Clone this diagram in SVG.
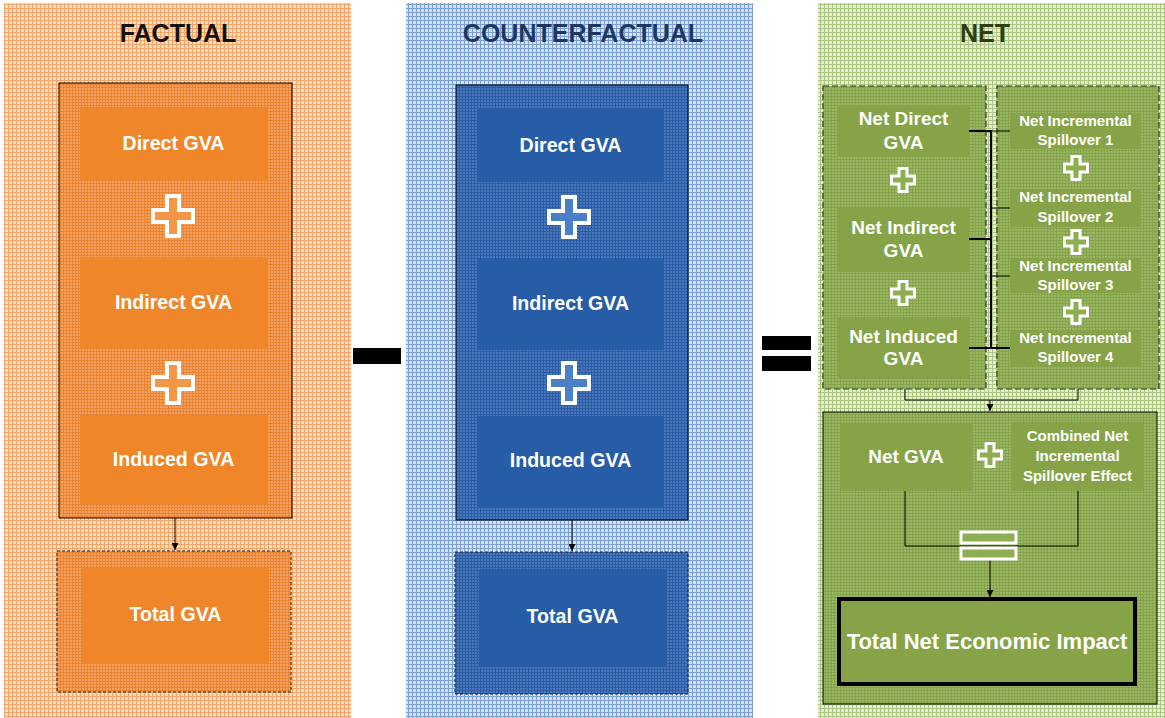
<svg xmlns="http://www.w3.org/2000/svg" width="1165" height="718" viewBox="0 0 1165 718">
  <defs>
    <!-- woven grid fills for the three columns -->
    <pattern id="gridOrangeLight" width="4" height="4" patternUnits="userSpaceOnUse">
      <rect width="4" height="4" fill="#fcdcc2"/>
      <rect width="1" height="4" fill="#f3a468"/>
      <rect width="4" height="1" fill="#f3a468"/>
    </pattern>
    <pattern id="gridOrangeDark" width="3" height="3" patternUnits="userSpaceOnUse">
      <rect width="3" height="3" fill="#f4a060"/>
      <rect width="1" height="3" fill="#ea8430"/>
      <rect width="3" height="1" fill="#ea8430"/>
    </pattern>
    <pattern id="gridBlueLight" width="4" height="4" patternUnits="userSpaceOnUse">
      <rect width="4" height="4" fill="#d6e2f3"/>
      <rect width="1" height="4" fill="#7c9fd4"/>
      <rect width="4" height="1" fill="#7c9fd4"/>
    </pattern>
    <pattern id="gridBlueDark" width="3" height="3" patternUnits="userSpaceOnUse">
      <rect width="3" height="3" fill="#4a78bd"/>
      <rect width="1" height="3" fill="#2c5ca4"/>
      <rect width="3" height="1" fill="#2c5ca4"/>
    </pattern>
    <pattern id="gridGreenLight" width="4" height="4" patternUnits="userSpaceOnUse">
      <rect width="4" height="4" fill="#e4eed3"/>
      <rect width="1" height="4" fill="#adc783"/>
      <rect width="4" height="1" fill="#adc783"/>
    </pattern>
    <pattern id="gridGreenDark" width="3" height="3" patternUnits="userSpaceOnUse">
      <rect width="3" height="3" fill="#9ab764"/>
      <rect width="1" height="3" fill="#84a34a"/>
      <rect width="3" height="1" fill="#84a34a"/>
    </pattern>
    <marker id="arrow" viewBox="0 0 10 10" refX="10" refY="5" markerWidth="7" markerHeight="7" markerUnits="userSpaceOnUse" orient="auto">
      <path d="M0,0 L10,5 L0,10 Z" fill="#000"/>
    </marker>
    <!-- plus signs: large for the GVA stacks, small for the net column -->
    <path id="plusBig" d="M-6,-20 H6 V-6 H20 V6 H6 V20 H-6 V6 H-20 V-6 H-6 Z"/>
    <path id="plusSmall" d="M-4,-11.5 H4 V-4 H11.5 V4 H4 V11.5 H-4 V4 H-11.5 V-4 H-4 Z"/>
  </defs>
  <style>
    .title { font-family: "Liberation Sans", Arial, sans-serif; font-weight: bold; font-size: 25px; text-anchor: middle; }
    .lbl { font-family: "Liberation Sans", Arial, sans-serif; font-weight: bold; fill: #fff; text-anchor: middle; }
    .l19 { font-size: 19px; }
    .l20 { font-size: 19.6px; }
    .l15 { font-size: 15px; }
    .l22 { font-size: 22px; }
    .orange { fill: #f0862a; }
    .blue { fill: #275da6; }
    .green { fill: #86a447; }
    .frame { stroke: #000; stroke-width: 1; }
    .dashed { stroke: #222; stroke-width: 1; stroke-dasharray: 3 2; }
    .dashedG { stroke: #333; stroke-width: 1.2; stroke-dasharray: 6 3; }
    .plus { stroke: #fff; stroke-width: 4; }
    .conn { fill: none; stroke: #000; stroke-width: 1; }
    .conn2 { fill: none; stroke: #000; stroke-width: 2; }
  </style>

  <!-- column backgrounds -->
  <rect x="4" y="3" width="347" height="715" fill="url(#gridOrangeLight)"/>
  <rect x="406" y="3" width="347" height="715" fill="url(#gridBlueLight)"/>
  <rect x="818" y="3" width="347" height="715" fill="url(#gridGreenLight)"/>

  <text class="title" x="178" y="42" fill="#111">FACTUAL</text>
  <text class="title" x="583" y="42" fill="#1f3760">COUNTERFACTUAL</text>
  <text class="title" x="985" y="42" fill="#2f3d14">NET</text>

  <!-- operators between columns -->
  <rect x="353" y="348" width="48" height="16" fill="#000"/>
  <rect x="762" y="336" width="49" height="14" fill="#000"/>
  <rect x="762" y="356" width="49" height="15" fill="#000"/>

  <!-- container frames -->
  <rect x="59" y="83" width="233" height="435" fill="url(#gridOrangeDark)" class="frame"/>
  <rect x="57" y="551" width="234" height="141" fill="url(#gridOrangeDark)" class="dashed"/>
  <rect x="456" y="85" width="232" height="435" fill="url(#gridBlueDark)" class="frame"/>
  <rect x="455" y="552" width="233" height="142" fill="url(#gridBlueDark)" class="dashed"/>
  <rect x="823" y="86" width="163" height="303" fill="url(#gridGreenDark)" class="dashedG"/>
  <rect x="997" y="86" width="162" height="303" fill="url(#gridGreenDark)" class="dashedG"/>
  <rect x="823" y="412" width="334" height="292" fill="url(#gridGreenDark)" class="frame"/>

  <!-- connectors -->
  <g id="connectors">
    <line class="conn" x1="175" y1="518" x2="175" y2="550" marker-end="url(#arrow)"/>
    <line class="conn" x1="572" y1="520" x2="572" y2="551" marker-end="url(#arrow)"/>
    <line class="conn2" x1="969" y1="131" x2="991" y2="131"/>
    <line class="conn" x1="991" y1="131" x2="1010" y2="131"/>
    <line class="conn2" x1="991" y1="130" x2="991" y2="349"/>
    <line class="conn2" x1="969" y1="239" x2="991" y2="239"/>
    <line class="conn2" x1="969" y1="348" x2="1010" y2="348"/>
    <line class="conn" x1="991" y1="208" x2="1010" y2="208"/>
    <line class="conn" x1="991" y1="276" x2="1010" y2="276"/>
    <polyline class="conn" points="905,389 905,400 1078,400 1078,389"/>
    <line class="conn" x1="990" y1="400" x2="990" y2="411" marker-end="url(#arrow)"/>
    <polyline class="conn" points="905,491 905,546 1078,546 1078,491"/>
    <line class="conn" x1="990" y1="559" x2="990" y2="597" marker-end="url(#arrow)"/>
  </g>

  <!-- factual stack -->
  <g id="f-direct">
    <rect class="orange" x="80" y="107" width="187" height="74"/>
    <text class="lbl l20" x="173.5" y="150">Direct GVA</text>
  </g>
  <use href="#plusBig" x="173" y="216" class="plus" fill="#f39645"/>
  <g id="f-indirect">
    <rect class="orange" x="80" y="257" width="187" height="92"/>
    <text class="lbl l20" x="173.5" y="309">Indirect GVA</text>
  </g>
  <use href="#plusBig" x="173" y="383" class="plus" fill="#f39645"/>
  <g id="f-induced">
    <rect class="orange" x="80" y="415" width="187" height="90"/>
    <text class="lbl l20" x="173.5" y="466">Induced GVA</text>
  </g>
  <g id="f-total">
    <rect class="orange" x="82" y="567" width="187" height="97"/>
    <text class="lbl l20" x="175.5" y="621">Total GVA</text>
  </g>

  <!-- counterfactual stack -->
  <g id="c-direct">
    <rect class="blue" x="477" y="109" width="187" height="73"/>
    <text class="lbl l20" x="570.5" y="152">Direct GVA</text>
  </g>
  <use href="#plusBig" x="569" y="217" class="plus" fill="#4b80c6"/>
  <g id="c-indirect">
    <rect class="blue" x="477" y="258" width="187" height="92"/>
    <text class="lbl l20" x="570.5" y="310">Indirect GVA</text>
  </g>
  <use href="#plusBig" x="569" y="383" class="plus" fill="#4b80c6"/>
  <g id="c-induced">
    <rect class="blue" x="477" y="416" width="187" height="91"/>
    <text class="lbl l20" x="570.5" y="467">Induced GVA</text>
  </g>
  <g id="c-total">
    <rect class="blue" x="479" y="569" width="187" height="97"/>
    <text class="lbl l20" x="572.5" y="623">Total GVA</text>
  </g>

  <!-- net column: GVA components -->
  <g id="n-direct">
    <rect class="green" x="838" y="105" width="131" height="52"/>
    <text class="lbl l19" x="903.5" y="125">Net Direct</text>
    <text class="lbl l19" x="903.5" y="149">GVA</text>
  </g>
  <use href="#plusSmall" x="903" y="180" class="plus" fill="#8fae52" style="stroke-width:3"/>
  <g id="n-indirect">
    <rect class="green" x="838" y="207" width="131" height="65"/>
    <text class="lbl l19" x="903.5" y="234">Net Indirect</text>
    <text class="lbl l19" x="903.5" y="257">GVA</text>
  </g>
  <use href="#plusSmall" x="903" y="293" class="plus" fill="#8fae52" style="stroke-width:3"/>
  <g id="n-induced">
    <rect class="green" x="838" y="317" width="131" height="62"/>
    <text class="lbl l19" x="903.5" y="343">Net Induced</text>
    <text class="lbl l19" x="903.5" y="365">GVA</text>
  </g>

  <!-- net column: spillovers -->
  <g id="s1">
    <rect class="green" x="1010" y="113" width="131" height="36"/>
    <text class="lbl l15" x="1075.5" y="126">Net Incremental</text>
    <text class="lbl l15" x="1075.5" y="145">Spillover 1</text>
  </g>
  <use href="#plusSmall" x="1076" y="168" class="plus" fill="#8fae52" style="stroke-width:3"/>
  <g id="s2">
    <rect class="green" x="1010" y="190" width="131" height="37"/>
    <text class="lbl l15" x="1075.5" y="202">Net Incremental</text>
    <text class="lbl l15" x="1075.5" y="222">Spillover 2</text>
  </g>
  <use href="#plusSmall" x="1076" y="242" class="plus" fill="#8fae52" style="stroke-width:3"/>
  <g id="s3">
    <rect class="green" x="1010" y="258" width="131" height="35"/>
    <text class="lbl l15" x="1075.5" y="271">Net Incremental</text>
    <text class="lbl l15" x="1075.5" y="290">Spillover 3</text>
  </g>
  <use href="#plusSmall" x="1076" y="312" class="plus" fill="#8fae52" style="stroke-width:3"/>
  <g id="s4">
    <rect class="green" x="1010" y="331" width="131" height="36"/>
    <text class="lbl l15" x="1075.5" y="343">Net Incremental</text>
    <text class="lbl l15" x="1075.5" y="362">Spillover 4</text>
  </g>

  <!-- net column: totals -->
  <g id="n-gva">
    <rect class="green" x="840" y="423" width="132" height="68"/>
    <text class="lbl l19" x="906" y="463">Net GVA</text>
  </g>
  <use href="#plusSmall" x="990" y="455" class="plus" fill="#8fae52" style="stroke-width:3"/>
  <g id="n-spill">
    <rect class="green" x="1012" y="422" width="131" height="69"/>
    <text class="lbl l15" x="1077.5" y="441">Combined Net</text>
    <text class="lbl l15" x="1077.5" y="461">Incremental</text>
    <text class="lbl l15" x="1077.5" y="481">Spillover Effect</text>
  </g>
  <g id="equals">
    <rect x="961" y="532" width="55" height="11" fill="#8fae52" stroke="#fff" stroke-width="3"/>
    <rect x="961" y="548" width="55" height="11" fill="#8fae52" stroke="#fff" stroke-width="3"/>
  </g>
  <g id="n-total">
    <rect class="green" x="839" y="599" width="296" height="85" stroke="#000" stroke-width="4"/>
    <text class="lbl l22" x="987" y="649">Total Net Economic Impact</text>
  </g>
</svg>
